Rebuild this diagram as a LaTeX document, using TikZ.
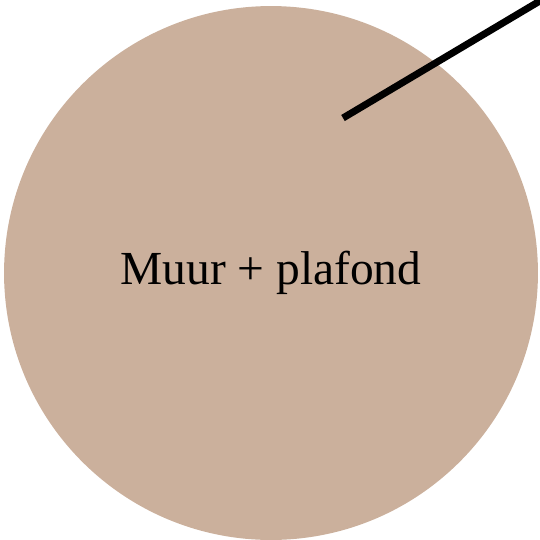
\documentclass[tikz,border=0pt]{standalone}
\usepackage{fontspec}
\setmainfont{Liberation Serif}
\usetikzlibrary{positioning}
\definecolor{wandkleur}{RGB}{203,176,156}

\begin{document}
\begin{tikzpicture}[
    x=0.018519cm, y=-0.018519cm,
    zone/.style={circle, fill=wandkleur, minimum size=9.89cm, inner sep=0pt, font=\fontsize{25}{30}\selectfont},
    pointer/.style={line width=3.7pt}
]
\useasboundingbox (0,0) rectangle (540,540);
\node[zone] (muur) at (271,273) {Muur + plafond};
\coordinate (pstart) at (343,118);
\coordinate (pend) at (560,-11);
\draw[pointer] (pstart) -- (pend);
\end{tikzpicture}
\end{document}
